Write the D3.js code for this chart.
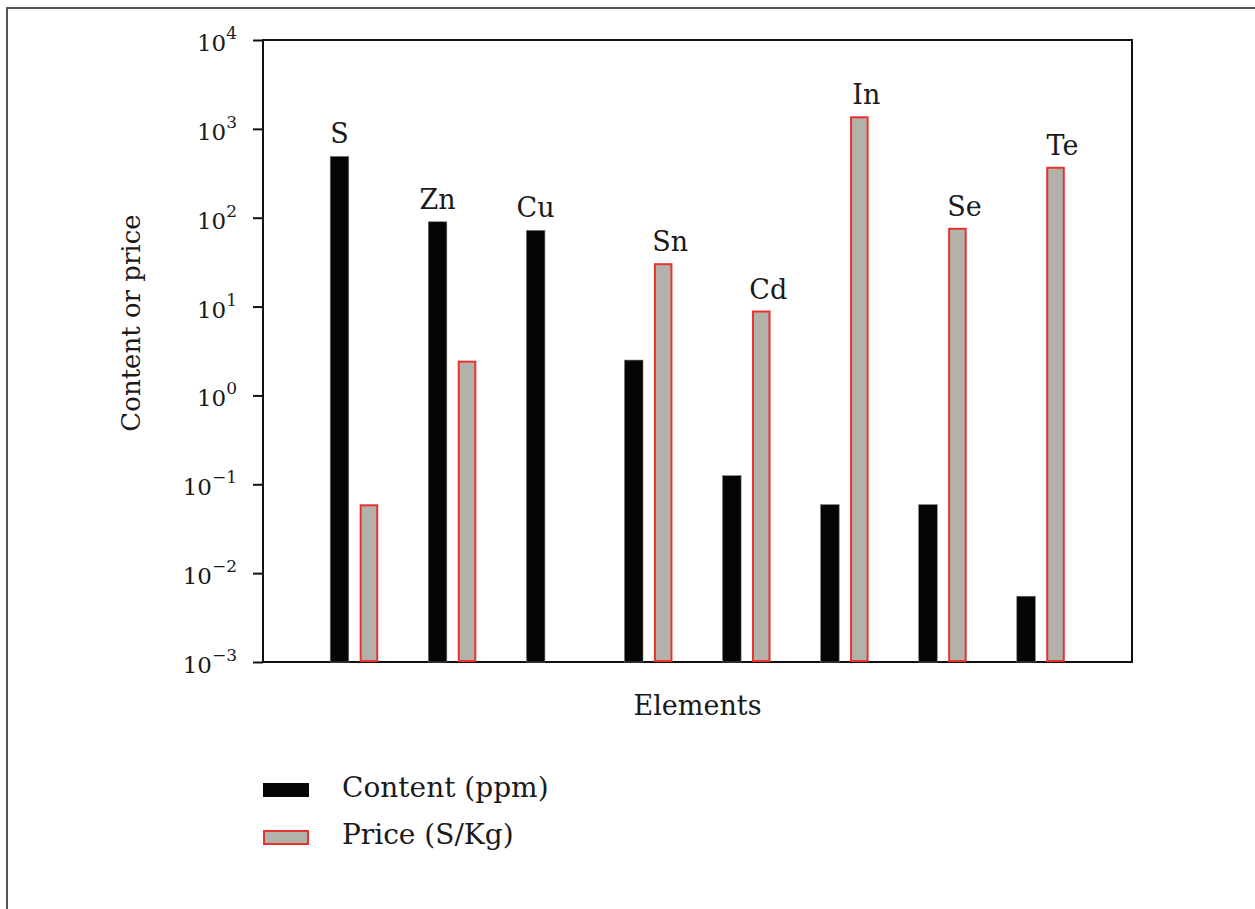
<!DOCTYPE html>
<html>
<head>
<meta charset="utf-8">
<script src="https://cdn.jsdelivr.net/npm/d3@7"></script>
<style>
  html, body { margin: 0; padding: 0; background: #fff; }
  svg { display: block; font-family: "DejaVu Serif", "Liberation Serif", serif; }
</style>
</head>
<body>
<div id="chart"></div>
<script>
// data
const elements = ["S", "Zn", "Cu", "Sn", "Cd", "In", "Se", "Te"];
const contentPpm = [490, 90, 72, 2.5, 0.125, 0.059, 0.059, 0.0055];
const priceKg = [0.058, 2.4, null, 30, 8.8, 1350, 75, 365];
const tickExponents = [-3, -2, -1, 0, 1, 2, 3, 4];
const seriesNames = ["Content (ppm)", "Price (S/Kg)"];

const CONTENT_COLOR = "#050505";
const PRICE_FILL = "#b2b2aa";
const PRICE_STROKE = "#e8322e";
const TEXT_COLOR = "#1a1a1a";

const width = 1255, height = 909;
const margin = { top: 40, right: 123, bottom: 247, left: 263 };
const innerWidth = width - margin.left - margin.right;
const innerHeight = height - margin.top - margin.bottom;

const svg = d3.select("#chart").append("svg")
    .attr("width", width)
    .attr("height", height)
    .attr("viewBox", `0 0 ${width} ${height}`);

// outer frame (only top and left edges visible)
svg.append("path")
    .attr("d", `M7,${height} L7,8 L${width},8`)
    .attr("fill", "none")
    .attr("stroke", "#555")
    .attr("stroke-width", 2);

const chartArea = svg.append("g").attr("transform", `translate(${margin.left},${margin.top})`);

const x0 = d3.scaleBand().domain(elements).range([margin.left, margin.left + innerWidth]).paddingInner(0).paddingOuter(0.43);
const subgroups = ["content", "price"];
const x1 = d3.scaleBand().domain(subgroups).range([-24, 24]).paddingInner(0.37).paddingOuter(0);
const y = d3.scaleLog().domain([1e-3, 1e4]).range([margin.top + innerHeight, margin.top]);
const cx = el => x0(el) + x0.bandwidth() / 2;
const baseY = y(1e-3);

const rows = elements.map((el, i) => ({ el, content: contentPpm[i], price: priceKg[i] }));

// bars
svg.selectAll(".bar-content").data(rows).enter().append("rect")
    .attr("class", "bar-content")
    .attr("x", d => cx(d.el) + x1("content"))
    .attr("width", x1.bandwidth())
    .attr("y", d => y(d.content))
    .attr("height", d => baseY - y(d.content))
    .attr("fill", CONTENT_COLOR)
    .attr("stroke", "#777")
    .attr("stroke-width", 0.6);

svg.selectAll(".bar-price").data(rows.filter(d => d.price != null)).enter().append("rect")
    .attr("class", "bar-price")
    .attr("x", d => cx(d.el) + x1("price") + 1)
    .attr("width", x1.bandwidth() - 2)
    .attr("y", d => y(d.price))
    .attr("height", d => baseY - y(d.price) - 1)
    .attr("fill", PRICE_FILL)
    .attr("stroke", PRICE_STROKE)
    .attr("stroke-width", 2);

// element labels over the taller bar
svg.selectAll(".el-label").data(rows).enter().append("text")
    .attr("class", "el-label")
    .attr("text-anchor", "middle")
    .attr("font-size", 27)
    .attr("fill", TEXT_COLOR)
    .attr("x", d => cx(d.el) + ((d.price != null && d.price > d.content)
        ? x1("price") + x1.bandwidth() / 2 + 7
        : x1("content") + x1.bandwidth() / 2))
    .attr("y", d => y(Math.max(d.content, d.price || 0)) - 13)
    .text(d => d.el);

// y axis ticks
const tickValues = tickExponents.map(e => Math.pow(10, e));
const yAxis = svg.append("g")
    .attr("transform", `translate(${margin.left},0)`)
    .call(d3.axisLeft(y).tickValues(tickValues).tickSize(10).tickSizeOuter(0).tickFormat(""));
yAxis.select(".domain").remove();
yAxis.selectAll(".tick line").attr("stroke", "#111").attr("stroke-width", 2);

// tick labels as 10^n
const tickLabels = svg.selectAll(".tick-label").data(tickValues).enter().append("text")
    .attr("class", "tick-label")
    .attr("text-anchor", "end")
    .attr("font-size", 23)
    .attr("fill", TEXT_COLOR)
    .attr("x", margin.left - 26)
    .attr("y", d => y(d) + 11);
tickLabels.append("tspan").text("10");
tickLabels.append("tspan").attr("font-size", 17).attr("dy", -12)
    .text(d => {
        const e = Math.round(Math.log10(d));
        return e < 0 ? "\u2212" + Math.abs(e) : String(e);
    });

// plot frame
chartArea.append("rect")
    .attr("width", innerWidth)
    .attr("height", innerHeight)
    .attr("fill", "none")
    .attr("stroke", "#111")
    .attr("stroke-width", 2);

// axis titles
svg.append("text")
    .attr("text-anchor", "middle")
    .attr("font-size", 27)
    .attr("fill", TEXT_COLOR)
    .attr("x", margin.left + innerWidth / 2)
    .attr("y", 715)
    .text("Elements");

svg.append("text")
    .attr("text-anchor", "middle")
    .attr("font-size", 26)
    .attr("fill", TEXT_COLOR)
    .attr("transform", `translate(140, ${margin.top + 283}) rotate(-90)`)
    .text("Content or price");

// legend
const legend = svg.append("g").attr("transform", "translate(263, 783)");
const legendItems = legend.selectAll(".item").data(seriesNames).enter().append("g")
    .attr("transform", (d, i) => `translate(0, ${i * 47})`);
legendItems.append("rect")
    .attr("x", (d, i) => i === 0 ? 0 : 1)
    .attr("y", (d, i) => i === 0 ? 0 : 1)
    .attr("width", (d, i) => i === 0 ? 46 : 44)
    .attr("height", (d, i) => i === 0 ? 14 : 13)
    .attr("fill", (d, i) => i === 0 ? CONTENT_COLOR : PRICE_FILL)
    .attr("stroke", (d, i) => i === 0 ? "none" : PRICE_STROKE)
    .attr("stroke-width", 2);
legendItems.append("text")
    .attr("x", 79)
    .attr("y", 14)
    .attr("font-size", 28)
    .attr("fill", TEXT_COLOR)
    .text(d => d);
</script>
</body>
</html>
